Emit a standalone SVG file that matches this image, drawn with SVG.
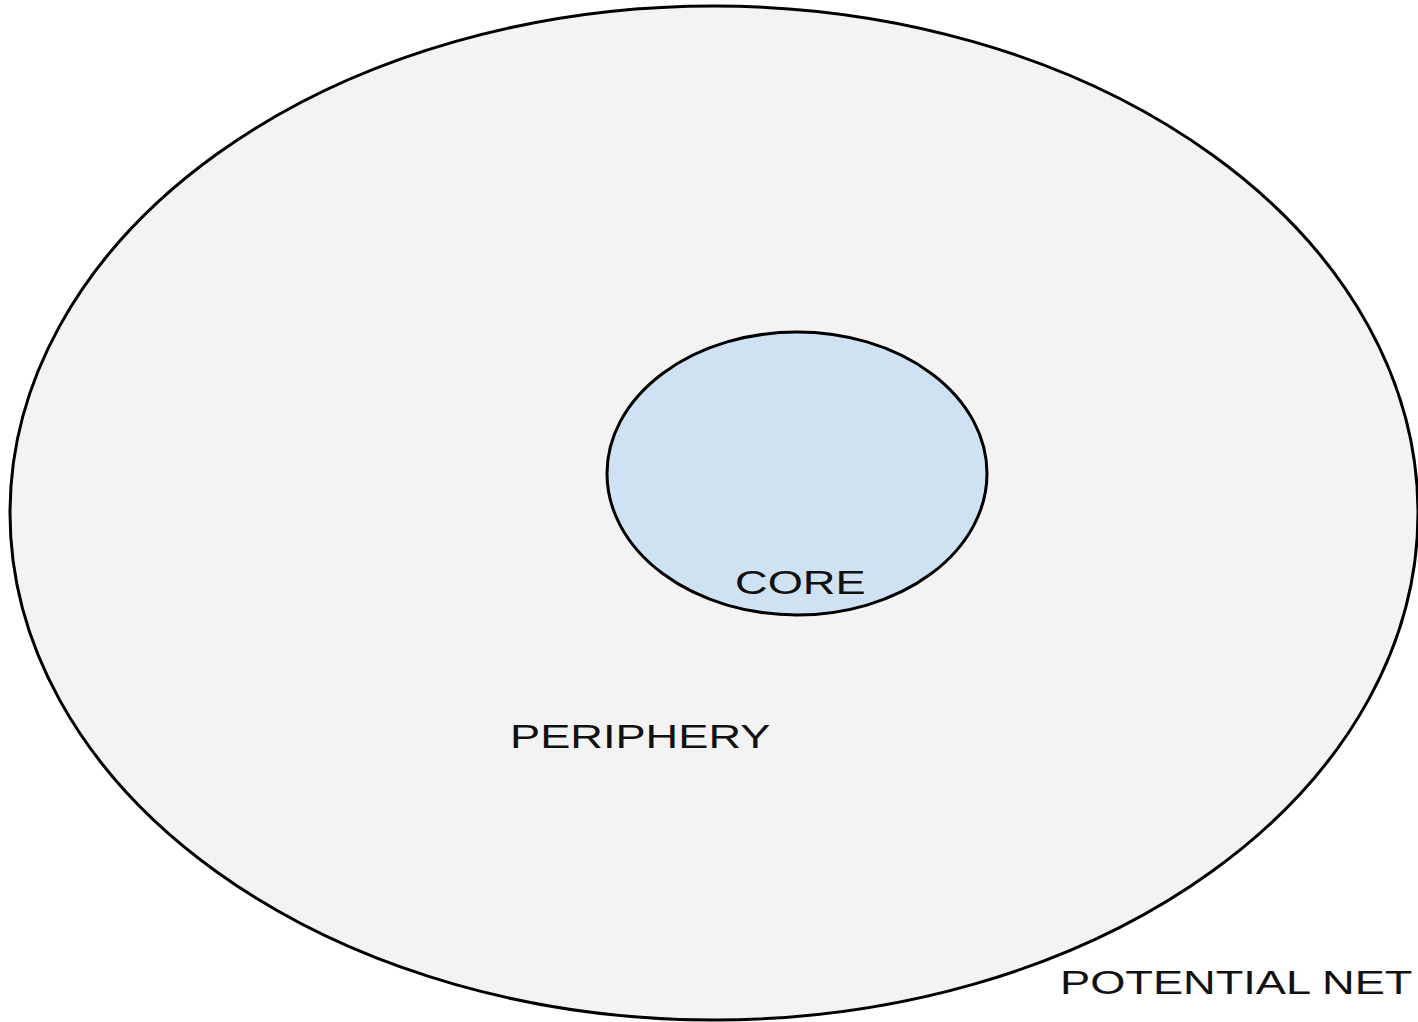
<svg xmlns="http://www.w3.org/2000/svg" width="1418" height="1022" viewBox="0 0 1418 1022">
<style>
.lbl{font-family:"Liberation Sans",Arial,sans-serif;font-size:33px;fill:#111;}
.shape{stroke:#000;stroke-width:3;}
</style>
<rect width="1418" height="1022" fill="#fff"/>
<g id="potential-net">
<ellipse class="shape" cx="714" cy="513" rx="704" ry="507" fill="#f3f3f3"/>
<text class="lbl" transform="translate(1060,994) scale(1.37,1)">POTENTIAL NET</text>
</g>
<g id="periphery">
<text class="lbl" transform="translate(510,748) scale(1.37,1)">PERIPHERY</text>
</g>
<g id="core">
<ellipse class="shape" cx="797" cy="473.5" rx="190" ry="141.5" fill="#cfe2f3"/>
<text class="lbl" transform="translate(735,594) scale(1.37,1)">CORE</text>
</g>
<g id="connectors"></g>
</svg>
